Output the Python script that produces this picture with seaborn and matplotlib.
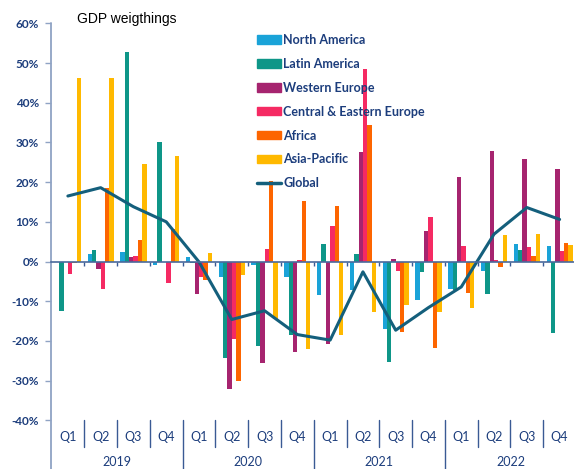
import numpy as np
import pandas as pd
import matplotlib
matplotlib.use("Agg")
import matplotlib.pyplot as plt
import seaborn as sns
from matplotlib.patches import Patch
from matplotlib.lines import Line2D

# Quarterly growth by region (%)
years = ["2019", "2020", "2021", "2022"]
quarter_names = ["Q1", "Q2", "Q3", "Q4"]
regions = ["North America", "Latin America", "Western Europe",
           "Central & Eastern Europe", "Africa", "Asia-Pacific"]

north_america = [0.0, 1.8, 2.3, -0.9, 1.2, -4.0, -0.8, -4.0,
                 -8.5, -7.2, -17.0, -9.8, -6.8, -2.4, 4.4, 3.9]
latin_america = [-12.5, 3.0, 52.8, 30.0, -0.5, -24.4, -21.3, -18.6,
                 4.5, 2.0, -25.2, -2.6, -7.2, -8.2, 3.0, -18.1]
western_europe = [-0.2, -2.0, 1.2, 0.0, -8.2, -32.0, -25.5, -22.8,
                  -20.7, 27.6, 0.6, 7.6, 21.3, 27.8, 25.8, 23.2]
central_eastern_europe = [-3.2, -6.8, 1.3, -5.4, -3.9, -19.6, 3.2, 0.5,
                          9.0, 48.6, -2.4, 11.1, 3.9, 0.5, 3.7, 2.6]
africa = [-0.3, 18.4, 5.5, 8.3, -4.7, -30.1, 20.3, 15.2,
          13.9, 34.3, -17.7, -21.7, -7.9, -1.5, 1.4, 4.7]
asia_pacific = [46.1, 46.2, 24.5, 26.5, 2.2, -3.4, -14.4, -22.1,
                -18.6, -12.7, -11.0, -12.7, -11.8, 6.6, 6.9, 4.1]
global_growth = [16.5, 18.6, 13.8, 10.0, -0.1, -14.6, -12.4, -18.4,
                 -19.8, -2.6, -17.3, -11.6, -6.4, 6.9, 13.6, 10.6]

colors = ["#1aa3d8", "#0e9688", "#a6246f", "#f52a63", "#fd6500", "#ffb900"]
line_color = "#145f7c"
navy = "#1c3d7c"

periods = [f"{y} {q}" for y in years for q in quarter_names]
df = pd.DataFrame({
    "period": periods * len(regions),
    "region": np.repeat(regions, len(periods)),
    "value": north_america + latin_america + western_europe
             + central_eastern_europe + africa + asia_pacific,
})

sns.set_style("white")
plt.rcParams["font.family"] = ["Lato", "DejaVu Sans"]

fig = plt.figure(figsize=(5.74, 4.69), dpi=100)
ax = fig.add_axes([0.0897, 0.1038, 0.9138, 0.8465])

sns.barplot(data=df, x="period", y="value", hue="region", order=periods,
            hue_order=regions, palette=colors, saturation=1, width=0.8,
            linewidth=0, legend=False, ax=ax)
sns.lineplot(x=np.arange(len(periods)), y=global_growth, color=line_color,
             linewidth=2.2, ax=ax)

# y axis
ax.set_ylim(-40, 60)
ax.set_yticks(range(-40, 61, 10))
ax.set_yticklabels([f"{v}%" for v in range(-40, 61, 10)])
ax.tick_params(axis="y", length=4, width=1, color="#8fa3c4", labelcolor=navy,
               labelsize=8.5, pad=5, left=True)
for lbl in ax.get_yticklabels():
    lbl.set_fontweight("bold")
ax.set_ylabel("")

# x axis: zero line with small ticks at quarter boundaries
ax.set_xlim(-0.5, len(periods) - 0.5)
ax.set_xticks([])
ax.set_xlabel("")
ax.set_xticks(np.arange(0.5, len(periods) - 0.5, 1), minor=True)
ax.tick_params(axis="x", which="minor", length=3, width=1, color="#3a5a94",
               direction="out", bottom=True)
ax.spines["bottom"].set_position(("data", 0))
ax.spines["bottom"].set_color("#4a6a9c")
ax.spines["bottom"].set_linewidth(1.2)
for s in ["top", "right", "left"]:
    ax.spines[s].set_visible(False)

xt = ax.get_xaxis_transform()
ax.plot([-0.5, -0.5], [1, -0.125], transform=xt, clip_on=False,
        color="#8fa3c4", lw=1.3)
for b in np.arange(0.5, len(periods) - 0.5, 1):
    low = -0.125 if (b + 0.5) % 4 == 0 else -0.068
    ax.plot([b, b], [0, low], transform=xt, clip_on=False, color="#3a5a94", lw=1)

for i, p in enumerate(periods):
    ax.text(i, -0.042, p.split()[1], transform=xt, ha="center", va="center",
            fontsize=9, color=navy)
for k, y in enumerate(years):
    ax.text(4 * k + 1.5, -0.105, y, transform=xt, ha="center", va="center",
            fontsize=9, color=navy)

# legend
handles = [Patch(color=c) for c in colors] + [Line2D([], [], color=line_color, lw=2.5)]
labels = regions + ["Global"]
ax.legend(handles, labels, loc="upper left", bbox_to_anchor=(257 / 574, 1 - 34 / 469),
          bbox_transform=fig.transFigure, frameon=False, handlelength=1.9,
          handleheight=0.65, handletextpad=0.2, labelspacing=0.95, borderpad=0,
          borderaxespad=0, prop={"size": 9, "weight": "bold"}, labelcolor=navy)

fig.text(77 / 574, 1 - 19 / 469, "GDP weigthings", family="Liberation Sans",
         fontsize=10, color="black", ha="left", va="center")

fig.savefig("out.png", dpi=100)
